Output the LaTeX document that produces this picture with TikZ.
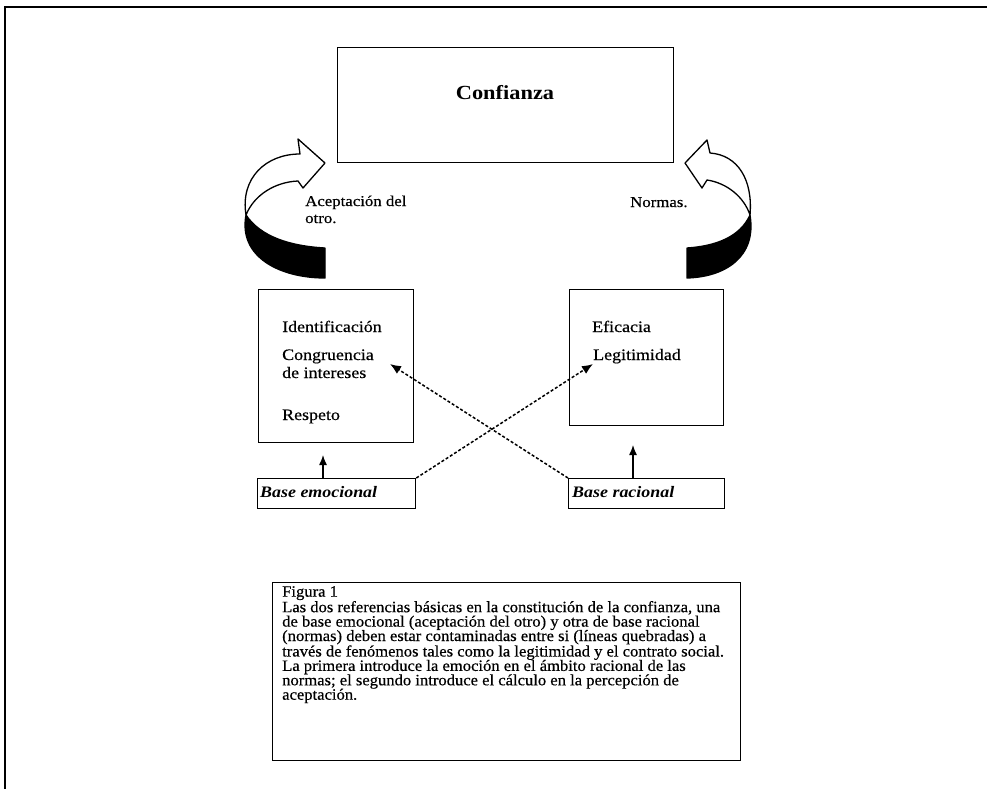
\documentclass[tikz,border=0pt]{standalone}
\usepackage{fontspec}
\setmainfont{Liberation Serif}[FakeStretch=1.12,UprightFeatures={FakeBold=0.5}]
\newfontfamily\capfont{Liberation Serif}[FakeStretch=1.05,UprightFeatures={FakeBold=0.5}]
\usetikzlibrary{arrows.meta}
\begin{document}
\begin{tikzpicture}[x=1pt,y=-1pt,
  frame/.style={draw,line width=1.3pt,inner sep=0pt,anchor=north west},
  lbl/.style={inner sep=0pt,anchor=base west,font=\fontsize{16}{18}\selectfont},
  blbl/.style={inner sep=0pt,anchor=base west,font=\bfseries\itshape\fontsize{16}{18}\selectfont},
  dasharrow/.style={line width=1.5pt,dash pattern=on 3pt off 2pt,-{Latex[length=11pt,width=9pt]}},
  uparrow/.style={line width=1.3pt,-{Latex[length=10pt,width=8pt]}},
  bent/.style={draw,fill=white,line width=1.3pt,line join=round},
  bentback/.style={draw,fill=black,line width=1.3pt,line join=round}
]
\useasboundingbox (0,0) rectangle (987,789);
% outer frame
\draw[line width=1.6pt] (5,789) -- (5,7) -- (987,7);

% boxes
\node[frame,minimum width=336pt,minimum height=115pt] (conf) at (337,47) {};
\node[inner sep=0pt,anchor=base,font=\bfseries\fontsize{20}{22}\selectfont] (conft) at (505,100) {Confianza};

\node[frame,minimum width=155pt,minimum height=153pt] (lbox) at (258,289) {};
\node[frame,minimum width=154pt,minimum height=136pt] (rbox) at (569,289) {};
\node[frame,minimum width=158pt,minimum height=30pt] (bemo) at (257,478) {};
\node[frame,minimum width=156pt,minimum height=30pt] (brac) at (568,478) {};
\node[frame,minimum width=468pt,minimum height=178pt] (capbox) at (272,582) {};

% texts
\node[lbl] (ident) at (282,332) {Identificación};
\node[lbl,align=left] (cong) at (282,378) {Congruencia\\de intereses};
\node[lbl] (resp) at (282,420) {Respeto};
\node[lbl] (efic) at (592,332) {Eficacia};
\node[lbl] (legit) at (593,360) {Legitimidad};
\node[blbl] (bemot) at (260,497) {Base emocional};
\node[blbl] (bract) at (572,497) {Base racional};
\node[lbl,align=left,font=\fontsize{15}{17}\selectfont] (acep) at (305,223) {Aceptación del\\otro.};
\node[lbl,font=\fontsize{15}{17}\selectfont] (normas) at (630,207) {Normas.};

\node[inner sep=0pt,anchor=north west,align=left,font=\capfont\fontsize{15.8}{14.4}\selectfont] (caption) at (282,586)
{Figura 1\\
Las dos referencias básicas en la constitución de la confianza, una\\
de base emocional (aceptación del otro) y otra de base racional\\
(normas) deben estar contaminadas entre si (líneas quebradas) a\\
través de fenómenos tales como la legitimidad y el contrato social.\\
La primera introduce la emoción en el ámbito racional de las\\
normas; el segundo introduce el cálculo en la percepción de\\
aceptación.};

% connectors
\coordinate (legtip) at (593,364);
\coordinate (congtip) at (390,364);
\draw[dasharrow] (bemo.north east) -- (legtip);
\draw[dasharrow] (brac.north west) -- (congtip);
\coordinate (up1) at (323,455);
\coordinate (up2) at (633,445);
\draw[uparrow] (bemo.north -| up1) -- (up1);
\draw[uparrow] (brac.north -| up2) -- (up2);

% left curved arrow
\path[bent] (246,215) .. controls (240,178) and (266,154) .. (300,154)
  -- (298,139) -- (325,163) -- (303,188) -- (298,181)
  .. controls (275,182) and (254,195) .. (246,215) -- cycle;
\path[bentback] (246,215) .. controls (238,257) and (280,278) .. (325,278)
  -- (325,248) .. controls (290,246) and (261,237) .. (246,215) -- cycle;

% right curved arrow
\path[bent] (750,215) .. controls (753,180) and (738,155) .. (710,153)
  -- (707,140) -- (685,163) -- (702,188) -- (707,180)
  .. controls (727,183) and (744,197) .. (750,215) -- cycle;
\path[bentback] (750,215) .. controls (757,257) and (725,277) .. (687,278)
  -- (687,248) .. controls (716,246) and (740,237) .. (750,215) -- cycle;
\end{tikzpicture}
\end{document}
